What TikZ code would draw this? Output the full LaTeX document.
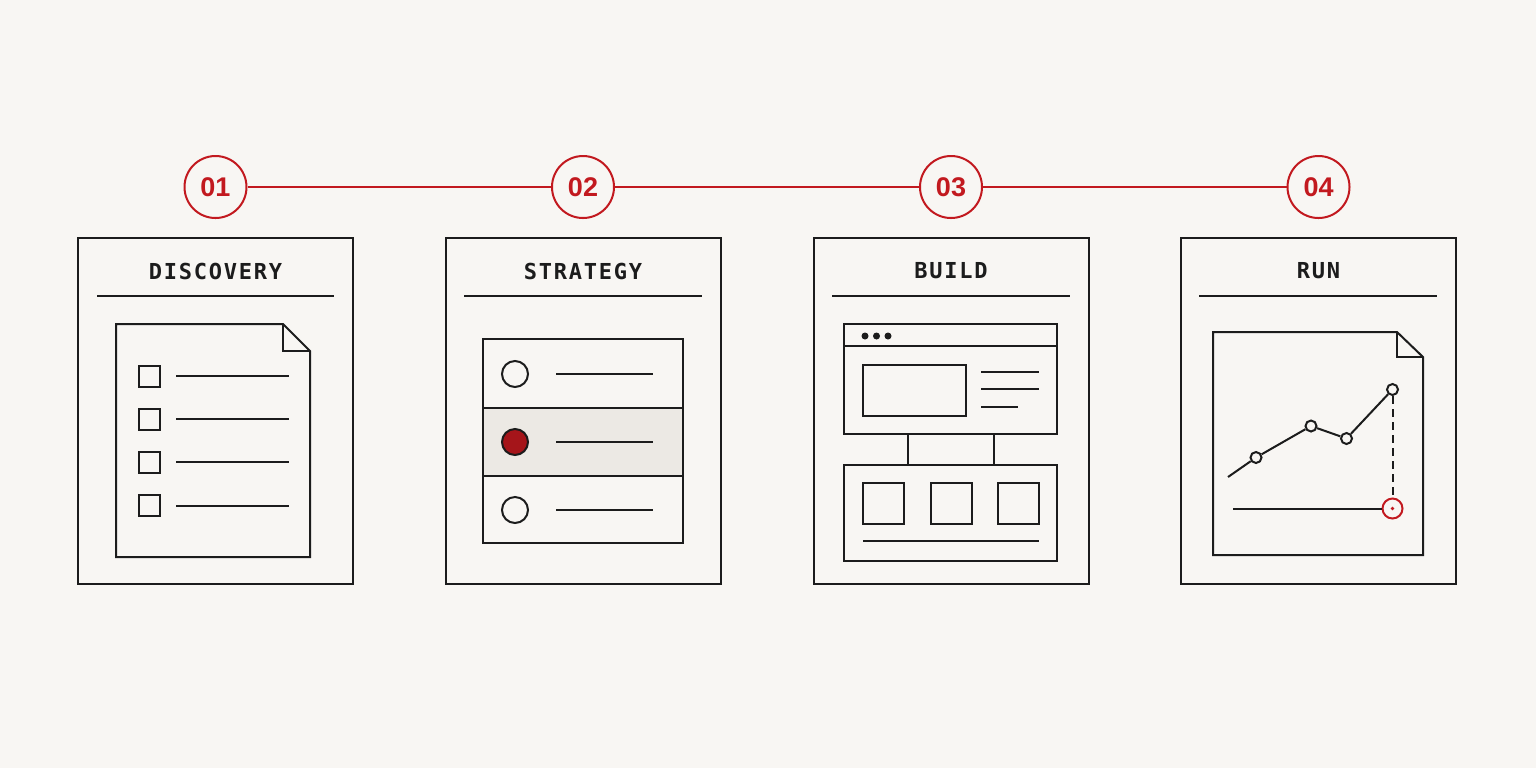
\documentclass[tikz,border=0pt]{standalone}
\usepackage{fontspec}
\usepackage{tikz}
\newfontfamily\headfont[LetterSpace=8]{DejaVu Sans Mono}
\newfontfamily\numfont{Liberation Sans}
\usetikzlibrary{positioning}
\definecolor{paper}{HTML}{F8F6F3}
\definecolor{ink}{HTML}{1C1C1C}
\definecolor{accent}{HTML}{C2191F}
\definecolor{band}{HTML}{ECE9E4}
\tikzstyle{stepnum}=[circle, draw=accent, fill=paper, line width=1pt, minimum size=31pt, inner sep=0pt, text=accent, font=\numfont\bfseries\fontsize{13.5}{14}\selectfont]
\tikzstyle{link}=[draw=accent, line width=1pt]
\tikzstyle{panel}=[rectangle, draw=ink, line width=1pt, minimum width=137.5pt, minimum height=173pt, inner sep=0pt]
\tikzstyle{heading}=[text=ink, inner sep=0pt, font=\headfont\bfseries\fontsize{11}{12}\selectfont]
\tikzstyle{icon}=[draw=ink, line width=1pt]
\tikzstyle{tick}=[rectangle, draw=ink, line width=1pt, minimum size=10.5pt, inner sep=0pt]
\tikzstyle{radio}=[circle, draw=ink, line width=1pt, minimum size=13pt, inner sep=0pt]
\tikzstyle{pane}=[rectangle, draw=ink, line width=1pt, inner sep=0pt]
\tikzstyle{point}=[circle, draw=ink, fill=paper, line width=1pt, minimum size=5.5pt, inner sep=0pt]
\newcommand{\stepnum}{\node[stepnum]}
\newcommand{\panel}{\node[panel]}

\begin{document}
\begin{tikzpicture}[x=0.5pt, y=-0.5pt]
            \useasboundingbox[fill=paper] (0,0) rectangle (1536,768);
            \stepnum (s1) at (215.5,187) {01};
            \stepnum (s2) at (583,187) {02};
            \stepnum (s3) at (951,187) {03};
            \stepnum (s4) at (1318.5,187) {04};
            \path
                (s1) edge[link] (s2)
                (s2) edge[link] (s3)
                (s3) edge[link] (s4)
            ;
            \panel (p1) at (215.5,411) {};
            \panel (p2) at (583,411) {};
            \panel (p3) at (951,411) {};
            \panel (p4) at (1318.5,411) {};
            \node[heading] (t1) at (215.5,271) {DISCOVERY};
            \node[heading] (t2) at (583,271) {STRATEGY};
            \node[heading] (t3) at (951,271) {BUILD};
            \node[heading] (t4) at (1318.5,271) {RUN};
            \draw[icon] (97,296) -- (334,296);
            \draw[icon] (464,296) -- (702,296);
            \draw[icon] (832,296) -- (1070,296);
            \draw[icon] (1199,296) -- (1437,296);

            \draw[icon] (116,324) -- (283,324) -- (310,351) -- (310,557) -- (116,557) -- cycle;
            \draw[icon] (283,324) -- (283,351) -- (310,351);
            \node[tick] (b1) at (149,376) {};
            \node[tick] (b2) at (149,419) {};
            \node[tick] (b3) at (149,462) {};
            \node[tick] (b4) at (149,505.5) {};
            \draw[icon] (176,376) -- (289,376);
            \draw[icon] (176,419) -- (289,419);
            \draw[icon] (176,462) -- (289,462);
            \draw[icon] (176,505.5) -- (289,505.5);

            \fill[band] (483,408) rectangle (683,476);
            \draw[icon] (483,339) rectangle (683,543);
            \draw[icon] (483,408) -- (683,408);
            \draw[icon] (483,476) -- (683,476);
            \node[radio] (r1) at (515,374) {};
            \node[radio, fill=accent!85!black] (r2) at (515,442) {};
            \node[radio] (r3) at (515,510) {};
            \draw[icon] (556,374) -- (653,374);
            \draw[icon] (556,442) -- (653,442);
            \draw[icon] (556,510) -- (653,510);

            \node[pane, minimum width=106.5pt, minimum height=55pt] (win) at (950.5,379) {};
            \node[pane, minimum width=106.5pt, minimum height=48pt] (base) at (950.5,513) {};
            \draw[icon] (844,346) -- (1057,346);
            \fill[ink] (865,336) circle (3.5) (876.5,336) circle (3.5) (888,336) circle (3.5);
            \node[pane, minimum width=51.5pt, minimum height=25.5pt] (shot) at (914.5,390.5) {};
            \draw[icon] (981,372) -- (1039,372);
            \draw[icon] (981,389) -- (1039,389);
            \draw[icon] (981,407) -- (1018,407);
            \path
                ([xshift=-21.5pt]win.south) edge[icon] ([xshift=-21.5pt]base.north)
                ([xshift=21.5pt]win.south) edge[icon] ([xshift=21.5pt]base.north)
            ;
            \node[pane, minimum size=20.5pt] (m1) at (883.5,503.5) {};
            \node[pane, minimum size=20.5pt] (m2) at (951,503.5) {};
            \node[pane, minimum size=20.5pt] (m3) at (1018,503.5) {};
            \draw[icon] (863,541) -- (1039,541);

            \draw[icon] (1213,332) -- (1397,332) -- (1423,357) -- (1423,555) -- (1213,555) -- cycle;
            \draw[icon] (1397,332) -- (1397,357) -- (1423,357);
            \coordinate (q0) at (1228,477);
            \node[point] (q1) at (1256,457.5) {};
            \node[point] (q2) at (1311,426) {};
            \node[point] (q3) at (1346.5,438.5) {};
            \node[point] (q4) at (1392.5,389.5) {};
            \node[circle, draw=accent, line width=1pt, minimum size=10pt, inner sep=0pt] (goal) at (1392.5,508.5) {};
            \fill[accent] (goal) circle (1.8);
            \coordinate (g0) at (1233,508.5);
            \path
                (q0) edge[icon] (q1)
                (q1) edge[icon] (q2)
                (q2) edge[icon] (q3)
                (q3) edge[icon] (q4)
                (q4) edge[icon, dash pattern=on 4pt off 2.5pt] (goal)
                (g0) edge[icon] (goal)
            ;
        \end{tikzpicture}
\end{document}
